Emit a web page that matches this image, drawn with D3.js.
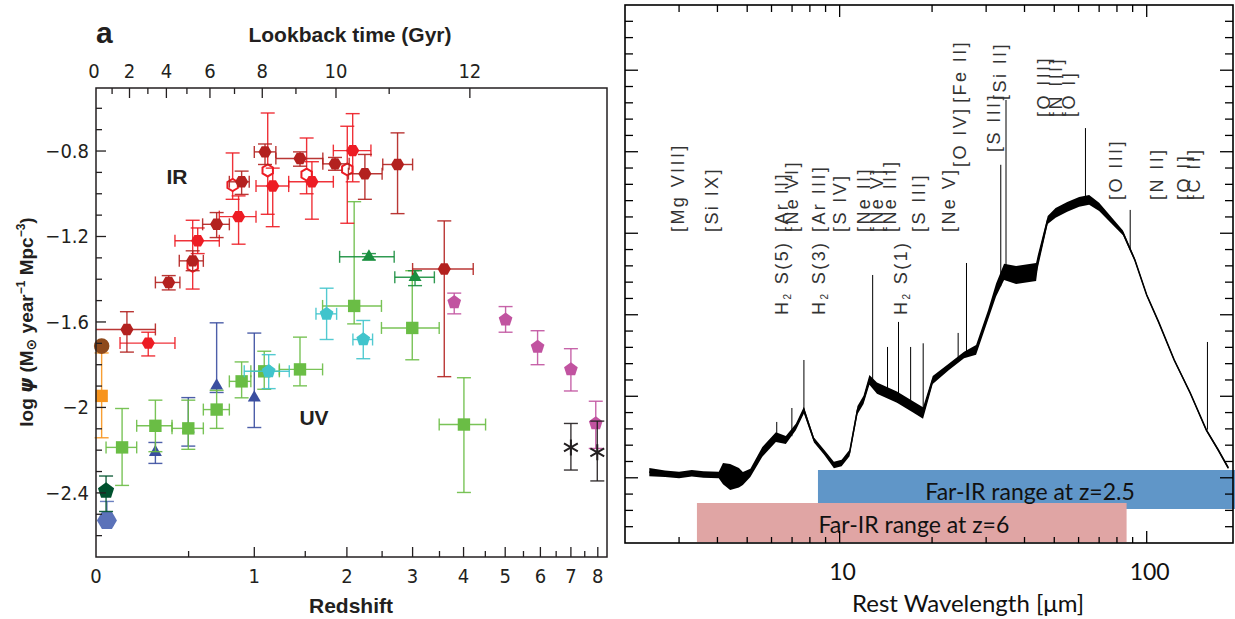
<!DOCTYPE html>
<html>
<head>
<meta charset="utf-8">
<script src="https://cdn.jsdelivr.net/npm/d3@7"></script>
<style>
  body { margin: 0; background: #fff; }
  svg { display: block; }
</style>
</head>
<body>
<svg id="chart" width="1235" height="619"></svg>
<script>
var ink = "#231f20";
var narrow = "'Liberation Sans Narrow', 'DejaVu Sans Condensed', 'Liberation Sans', sans-serif";
var bold = "'Liberation Sans', Arial, sans-serif";

// ---------------- panel a: cosmic star formation history ----------------
var redshiftTicks = [0, 1, 2, 3, 4, 5, 6, 7, 8];
var redshiftMinor = [0.5, 1.5, 2.5, 3.5, 4.5, 5.5, 6.5, 7.5];
var lookbackLabels = [0, 1, 2, 3, 4, 5, 6, 7, 8, 9, 10, 11, 12];
var lookbackZ = [0, 0.073, 0.158, 0.255, 0.361, 0.489, 0.647, 0.834, 1.071, 1.40, 1.86, 2.61, 4.14];
var psiLabels = [-0.8, -1.2, -1.6, -2, -2.4];
var psiMinor = [-2.6, -2.5, -2.3, -2.2, -2.1, -1.9, -1.8, -1.7, -1.5, -1.4, -1.3, -1.1, -1.0, -0.9, -0.7, -0.6];

// rows: [z, zLow, zHigh, logPsi, logPsiLow, logPsiHigh]
var irDark = [
  [0.145, 0, 0.297, -1.635, -1.741, -1.552],
  [0.375, 0.297, 0.444, -1.415, -1.45, -1.383],
  [0.527, 0.44, 0.60, -1.314, -1.36, -1.267],
  [0.696, 0.595, 0.793, -1.143, -1.205, -1.088],
  [0.892, 0.793, 0.956, -0.944, -1.003, -0.894],
  [1.096, 1.0, 1.198, -0.804, -0.863, -0.767],
  [1.443, 1.198, 1.70, -0.835, -0.871, -0.804],
  [1.848, 1.70, 2.03, -0.86, -0.89, -0.83],
  [2.246, 2.02, 2.5, -0.906, -1.026, -0.816],
  [2.745, 2.51, 3.0, -0.863, -1.093, -0.715],
  [3.595, 3.0, 4.216, -1.352, -1.856, -1.127]
];
var irRed = [
  [0.257, 0.111, 0.413, -1.699, -1.759, -1.648],
  [0.561, 0.413, 0.716, -1.22, -1.28, -1.16],
  [0.867, 0.716, 1.015, -1.107, -1.236, -1.01],
  [1.168, 1.015, 1.325, -0.964, -1.154, -0.88],
  [1.574, 1.325, 1.827, -0.944, -1.119, -0.85],
  [2.077, 1.827, 2.333, -0.798, -0.944, -0.625]
];
// rows: [z, logPsi, logPsiLow, logPsiHigh]
var irOpen = [
  [0.527, -1.337, -1.446, -1.124],
  [0.819, -0.959, -1.026, -0.809],
  [1.121, -0.891, -1.096, -0.622],
  [1.515, -0.91, -1.0, -0.739],
  [2.005, -0.886, -1.138, -0.684]
];
var uvSquares = [
  [0.121, 0.045, 0.195, -2.187, -2.365, -2.005],
  [0.297, 0.195, 0.395, -2.086, -2.207, -1.966],
  [0.498, 0.395, 0.60, -2.098, -2.196, -1.966],
  [0.696, 0.60, 0.793, -2.01, -2.098, -1.92],
  [0.892, 0.793, 0.97, -1.878, -1.955, -1.787],
  [1.089, 0.97, 1.232, -1.831, -1.915, -1.737],
  [1.443, 1.232, 1.697, -1.822, -1.899, -1.671],
  [2.097, 1.697, 2.49, -1.525, -1.609, -1.037],
  [2.994, 2.49, 3.494, -1.628, -1.777, -1.36],
  [4.008, 3.494, 4.506, -2.08, -2.398, -1.861]
];
var uvTriGreen = [
  [2.304, 1.906, 2.69, -1.295, -1.31, -1.28],
  [3.043, 2.7, 3.4, -1.391, -1.43, -1.36]
];
var uvPentCyan = [
  [1.13, 0.914, 1.331, -1.831, -1.912, -1.753],
  [1.745, 1.62, 1.868, -1.562, -1.682, -1.442],
  [2.223, 2.08, 2.357, -1.682, -1.772, -1.593]
];
var uvPentMagenta = [
  [3.8, -1.508, -1.562, -1.465],
  [5.01, -1.589, -1.648, -1.528],
  [5.914, -1.717, -1.8, -1.641],
  [7.0, -1.822, -1.923, -1.725],
  [7.92, -2.075, -2.192, -1.971]
];
var uvTriBlue = [
  [0.297, -2.21, -2.262, -2.164],
  [0.498, -2.10, -2.181, -1.954],
  [0.696, -1.899, -1.93, -1.604],
  [1.0, -1.955, -2.094, -1.652]
];
var uvStars = [
  [7.0, -2.187, -2.293, -2.075],
  [7.98, -2.21, -2.344, -2.064]
];
var localOrange = [[0.025, -1.946, -2.142, -1.745]];
var localBrown = [[0.025, -1.713, -1.713, -1.713]];
var localGreen = [[0.045, -2.39, -2.487, -2.321]];
var localBlue = [[0.049, -2.529, -2.55, -2.44]];

var xa = d3.scaleLog().domain([1, 9.37]).range([96, 607]);
var ya = d3.scaleLinear().domain([-2.7, -0.505]).range([557, 88]);
function zx(z) { return xa(1 + z); }

function poly(n, r, rot) {
  var pts = d3.range(n).map(function(i) {
    var a = rot + i * 2 * Math.PI / n;
    return [(r * Math.cos(a)).toFixed(2), (r * Math.sin(a)).toFixed(2)];
  });
  return "M" + pts.join("L") + "Z";
}
var shapes = {
  hex: poly(6, 6.6, 0),
  hexOpen: poly(6, 6, Math.PI / 6),
  hexBig: poly(6, 10, 0),
  pent: poly(5, 7.2, -Math.PI / 2),
  pentBig: poly(5, 8.5, -Math.PI / 2),
  tri: poly(3, 7.5, -Math.PI / 2),
  square: "M-6.2,-6.2L6.2,-6.2L6.2,6.2L-6.2,6.2Z",
  circle: d3.symbol().type(d3.symbolCircle).size(190)(),
  star: "M0,-8L0,8M-6.9,-4L6.9,4M-6.9,4L6.9,-4"
};

var pa = d3.select("#chart").append("g");

function drawSeries(rows, color, shape, opts) {
  opts = opts || {};
  var g = pa.append("g");
  rows.forEach(function(r) {
    var z, psi, lo, hi, zl = null, zh = null;
    if (r.length === 6) { z = r[0]; zl = r[1]; zh = r[2]; psi = r[3]; lo = r[4]; hi = r[5]; }
    else { z = r[0]; psi = r[1]; lo = r[2]; hi = r[3]; }
    var cx = zx(z), cy = ya(psi);
    var eb = g.append("g").attr("stroke", color).attr("stroke-width", 1.4).attr("fill", "none")
      .attr("stroke-opacity", 0.9);
    if (hi !== lo) {
      eb.append("line").attr("x1", cx).attr("x2", cx).attr("y1", ya(lo)).attr("y2", ya(hi));
      eb.append("line").attr("x1", cx - 7).attr("x2", cx + 7).attr("y1", ya(lo)).attr("y2", ya(lo));
      eb.append("line").attr("x1", cx - 7).attr("x2", cx + 7).attr("y1", ya(hi)).attr("y2", ya(hi));
    }
    if (zl !== null) {
      eb.append("line").attr("x1", zx(zl)).attr("x2", zx(zh)).attr("y1", cy).attr("y2", cy);
      if (zl > 0) eb.append("line").attr("x1", zx(zl)).attr("x2", zx(zl)).attr("y1", cy - 6).attr("y2", cy + 6);
      eb.append("line").attr("x1", zx(zh)).attr("x2", zx(zh)).attr("y1", cy - 6).attr("y2", cy + 6);
    }
    var m = g.append("path").attr("d", shapes[shape])
      .attr("transform", "translate(" + cx + "," + cy + ")");
    if (opts.open) m.attr("fill", "#fff").attr("stroke", color).attr("stroke-width", 2);
    else if (opts.line) m.attr("fill", "none").attr("stroke", color).attr("stroke-width", 2);
    else m.attr("fill", color);
  });
}

drawSeries(localOrange, "#f7941d", "square");
drawSeries(localBrown, "#8e4a1c", "circle");
drawSeries(localBlue, "#5b72b9", "hexBig");
drawSeries(localGreen, "#00522e", "pentBig");
drawSeries(uvTriBlue, "#3a4ea0", "tri");
drawSeries(uvSquares, "#6abd45", "square");
drawSeries(uvPentCyan, "#40c4cc", "pent");
drawSeries(uvTriGreen, "#1a8f3f", "tri");
drawSeries(uvPentMagenta, "#c153a0", "pent");
drawSeries(uvStars, ink, "star", { line: true });
drawSeries(irOpen, "#ed1c24", "hexOpen", { open: true });
drawSeries(irRed, "#ed1c24", "hex");
drawSeries(irDark, "#b3211f", "hex");

// axes of panel a
var axA = pa.append("g").attr("font-family", narrow).attr("fill", ink);
axA.append("rect").attr("x", 96).attr("y", 88).attr("width", 511).attr("height", 469)
  .attr("fill", "none").attr("stroke", ink).attr("stroke-width", 1.5);

var tk = axA.append("g").attr("stroke", ink).attr("stroke-width", 1.3);
redshiftTicks.slice(1).forEach(function(z) {
  tk.append("line").attr("x1", zx(z)).attr("x2", zx(z)).attr("y1", 557).attr("y2", 547);
});
redshiftMinor.forEach(function(z) {
  tk.append("line").attr("x1", zx(z)).attr("x2", zx(z)).attr("y1", 557).attr("y2", 551);
});
lookbackLabels.forEach(function(t, i) {
  if (t === 0) return;
  var len = t % 2 === 0 ? 10 : 6;
  tk.append("line").attr("x1", zx(lookbackZ[i])).attr("x2", zx(lookbackZ[i])).attr("y1", 88).attr("y2", 88 + len);
});
psiLabels.forEach(function(v) {
  tk.append("line").attr("x1", 96).attr("x2", 106).attr("y1", ya(v)).attr("y2", ya(v));
});
psiMinor.forEach(function(v) {
  tk.append("line").attr("x1", 96).attr("x2", 102).attr("y1", ya(v)).attr("y2", ya(v));
});

redshiftTicks.forEach(function(z) {
  axA.append("text").attr("x", zx(z)).attr("y", 583).attr("text-anchor", "middle")
    .attr("font-size", 20).text(z);
});
lookbackLabels.forEach(function(t, i) {
  if (t % 2 !== 0) return;
  axA.append("text").attr("x", zx(lookbackZ[i]) - (t === 0 ? 2 : 0)).attr("y", 78).attr("text-anchor", "middle")
    .attr("font-size", 20).text(t);
});
psiLabels.forEach(function(v) {
  axA.append("text").attr("x", 89).attr("y", ya(v) + 7).attr("text-anchor", "end")
    .attr("font-size", 20).text(String(v).replace("-", "\u2212"));
});

var titles = pa.append("g").attr("font-family", bold).attr("font-weight", "bold").attr("fill", ink);
titles.append("text").attr("x", 96).attr("y", 43).attr("font-size", 30).text("a");
titles.append("text").attr("x", 350).attr("y", 42).attr("text-anchor", "middle").attr("font-size", 21).text("Lookback time (Gyr)");
titles.append("text").attr("x", 351).attr("y", 613).attr("text-anchor", "middle").attr("font-size", 21).text("Redshift");
titles.append("text").attr("x", 177).attr("y", 184).attr("text-anchor", "middle").attr("font-size", 21).text("IR");
titles.append("text").attr("x", 314).attr("y", 425).attr("text-anchor", "middle").attr("font-size", 21).text("UV");

var yl = titles.append("text").attr("transform", "translate(33,322) rotate(-90)")
  .attr("text-anchor", "middle").attr("font-size", 19);
yl.append("tspan").text("log ");
yl.append("tspan").attr("font-style", "italic").attr("font-family", "'DejaVu Sans', sans-serif").text("\u03c8");
yl.append("tspan").text(" (M");
yl.append("tspan").attr("font-family", "'DejaVu Sans', sans-serif").attr("font-size", 14).attr("dy", 3).text("\u2299");
yl.append("tspan").attr("dy", -3).text(" year");
yl.append("tspan").attr("font-size", 12).attr("dy", -8).text("\u22121");
yl.append("tspan").attr("dy", 8).text(" Mpc");
yl.append("tspan").attr("font-size", 12).attr("dy", -8).text("\u22123");
yl.append("tspan").attr("dy", 8).text(")");

// ---------------- right panel: rest-frame IR spectrum ----------------
var specWave = [2.40, 2.7, 3.0, 3.3, 3.6, 4.04, 4.17, 4.4, 4.7, 4.84, 5.12, 5.6, 6.2, 6.68, 7.2, 7.65,
  8.25, 8.89, 9.58, 10.15, 10.77, 11.43, 11.96, 12.5, 13.23, 15.37, 17.34, 18.69, 20.1, 22.65, 25.42,
  27.82, 30.44, 32.32, 34.32, 37.55, 43.63, 44.16, 47.6, 50.5, 55.1, 60.26, 64.95, 70.0, 76.6, 83.7,
  91.5, 100, 109.3, 122.9, 138.6, 156.3, 171, 184.4];
var specFlux = [0.27, 0.25, 0.234, 0.255, 0.24, 0.234, 0.25, 0.21, 0.20, 0.19, 0.26, 0.517, 0.70, 0.664,
  0.823, 1.03, 0.664, 0.517, 0.357, 0.382, 0.504, 1.03, 1.155, 1.40, 1.30, 1.19, 1.07, 0.995, 1.40, 1.56,
  1.707, 1.768, 2.198, 2.504, 2.725, 2.688, 2.725, 2.848, 3.363, 3.449, 3.523, 3.584, 3.609, 3.523, 3.363,
  3.204, 2.872, 2.443, 2.112, 1.645, 1.24, 0.787, 0.541, 0.32];
var specNoise = [0.05, 0.04, 0.04, 0.04, 0.04, 0.04, 0.13, 0.16, 0.12, 0.08, 0.05, 0.06, 0.06, 0.05, 0.04,
  0.04, 0.03, 0.03, 0.04, 0.04, 0.04, 0.05, 0.05, 0.06, 0.07, 0.07, 0.07, 0.07, 0.05, 0.04, 0.04, 0.06,
  0.06, 0.08, 0.1, 0.11, 0.11, 0.08, 0.05, 0.06, 0.06, 0.06, 0.06, 0.05, 0.04, 0.03, 0.02, 0.015, 0.015,
  0.015, 0.015, 0.015, 0.015, 0.015];

var lineWave = [6.24, 6.99, 7.65, 12.81, 14.32, 15.55, 17.03, 18.71, 24.32, 25.89, 33.48, 34.82, 63.18, 88.36, 157.7];
var lineBase = [0.70, 0.71, 1.03, 1.38, 1.30, 1.19, 1.07, 1.0, 1.62, 1.71, 2.55, 2.72, 3.6, 3.0, 0.79];
var lineTop = [0.885, 1.056, 1.645, 2.688, 1.805, 2.112, 1.805, 1.85, 1.977, 2.835, 4.04, 4.835, 4.49, 3.486, 1.866];

var labelText = ["[Mg VIII]", "[Si IX]", "H2 S(5)", "[Ar II]", "[Ne VI]", "H2 S(3)", "[Ar III]", "[S IV]",
  "[Ne II]", "[Ne V]", "[Ne III]", "H2 S(1)", "[S III]", "[Ne V]", "[O IV]", "[Fe II]", "[S III]", "[Si II]",
  "[O III]", "[N III]", "[O I]", "[O III]", "[N II]", "[O I]", "[C II]"];
var labelWave = [3.11, 4.01, 6.78, 6.78, 7.31, 8.96, 8.96, 10.48, 12.56, 13.84, 15.26, 16.57, 18.97, 23.76,
  25.8, 25.8, 33.3, 34.8, 48.5, 53.0, 58.5, 83.2, 113.2, 138.7, 149.5];
var labelFlux = [3.216, 3.216, 2.198, 3.216, 3.216, 2.198, 3.216, 3.216, 3.216, 3.216, 3.216, 2.198, 3.216,
  3.216, 4.013, 4.80, 4.198, 4.836, 4.627, 4.627, 4.627, 3.609, 3.609, 3.609, 3.609];

var bandText = ["Far-IR range at z=2.5", "Far-IR range at z=6"];
var bandFrom = [8.5, 3.43];
var bandTo = [260, 86];
var bandLabelWave = [41.7, 17.45];

var xb = d3.scaleLog().domain([2, 191]).range([625, 1233]);
var yb = d3.scaleLinear().domain([-0.6, 6]).range([543, 5]);
var pb = d3.select("#chart").append("g");

var spec = d3.zip(specWave, specFlux, specNoise);
pb.append("path").datum(spec)
  .attr("fill", "#000")
  .attr("d", d3.area()
    .x(function(d) { return xb(d[0]); })
    .y0(function(d) { return yb(d[1] - d[2]); })
    .y1(function(d) { return yb(d[1] + d[2]); }));
pb.append("path").datum(spec)
  .attr("fill", "none").attr("stroke", "#000").attr("stroke-width", 1.6)
  .attr("d", d3.line()
    .x(function(d) { return xb(d[0]); })
    .y(function(d) { return yb(d[1]); }));

lineWave.forEach(function(w, i) {
  pb.append("line").attr("x1", xb(w)).attr("x2", xb(w))
    .attr("y1", yb(lineBase[i])).attr("y2", yb(lineTop[i]))
    .attr("stroke", "#000").attr("stroke-width", 1);
});

var bandColors = ["#6096c8", "#e0a5a4"];
var bandY = [470, 503];
bandText.forEach(function(t, i) {
  pb.append("rect").attr("x", xb(bandFrom[i])).attr("y", bandY[i])
    .attr("width", xb(bandTo[i]) - xb(bandFrom[i])).attr("height", 39)
    .attr("fill", bandColors[i]);
});
bandText.forEach(function(t, i) {
  pb.append("text").attr("x", xb(bandLabelWave[i])).attr("y", bandY[i] + 30)
    .attr("text-anchor", "middle").attr("font-family", "Lato, 'Open Sans', sans-serif")
    .attr("font-size", 23).attr("fill", "#111").text(t);
});

labelText.forEach(function(t, i) {
  var tx = pb.append("text")
    .attr("transform", "translate(" + xb(labelWave[i]) + "," + yb(labelFlux[i]) + ") rotate(-90)")
    .attr("font-family", "'Liberation Sans', Arial, sans-serif").attr("font-size", 18)
    .attr("letter-spacing", "2.4px").attr("fill", "#333");
  if (t.indexOf("H2") === 0) {
    tx.append("tspan").text("H");
    tx.append("tspan").attr("font-size", 10).attr("dy", 3).text("2");
    tx.append("tspan").attr("dy", -3).text(t.slice(2));
  } else {
    tx.text(t);
  }
});

// axes of right panel
var axB = pb.append("g");
axB.append("rect").attr("x", 625).attr("y", 5).attr("width", 608).attr("height", 538)
  .attr("fill", "none").attr("stroke", "#000").attr("stroke-width", 1.6);
var wMajor = [10, 100];
var wMinor = [3, 4, 5, 6, 7, 8, 9, 20, 30, 40, 50, 60, 70, 80, 90];
var fluxTicks = d3.range(-2, 30).map(function(i) { return i / 5; });
var tb = axB.append("g").attr("stroke", "#000").attr("stroke-width", 1.3);
wMajor.forEach(function(w) {
  tb.append("line").attr("x1", xb(w)).attr("x2", xb(w)).attr("y1", 5).attr("y2", 17);
  tb.append("line").attr("x1", xb(w)).attr("x2", xb(w)).attr("y1", 543).attr("y2", 531);
});
wMinor.forEach(function(w) {
  tb.append("line").attr("x1", xb(w)).attr("x2", xb(w)).attr("y1", 5).attr("y2", 12);
  tb.append("line").attr("x1", xb(w)).attr("x2", xb(w)).attr("y1", 543).attr("y2", 537);
});
fluxTicks.forEach(function(v, i) {
  var len = (i + 2) % 5 === 0 ? 13 : 8;
  tb.append("line").attr("x1", 625).attr("x2", 625 + len).attr("y1", yb(v)).attr("y2", yb(v));
  tb.append("line").attr("x1", 1233).attr("x2", 1233 - len).attr("y1", yb(v)).attr("y2", yb(v));
});
wMajor.forEach(function(w) {
  axB.append("text").attr("x", xb(w) + 3).attr("y", 580).attr("text-anchor", "middle")
    .attr("font-family", "Lato, 'Open Sans', sans-serif").attr("font-size", 23).attr("fill", "#111").text(w);
});
axB.append("text").attr("x", 968).attr("y", 612).attr("text-anchor", "middle")
  .attr("font-family", "Lato, 'Open Sans', sans-serif").attr("font-size", 24).attr("fill", "#111")
  .text("Rest Wavelength [\u03bcm]");
</script>
</body>
</html>
